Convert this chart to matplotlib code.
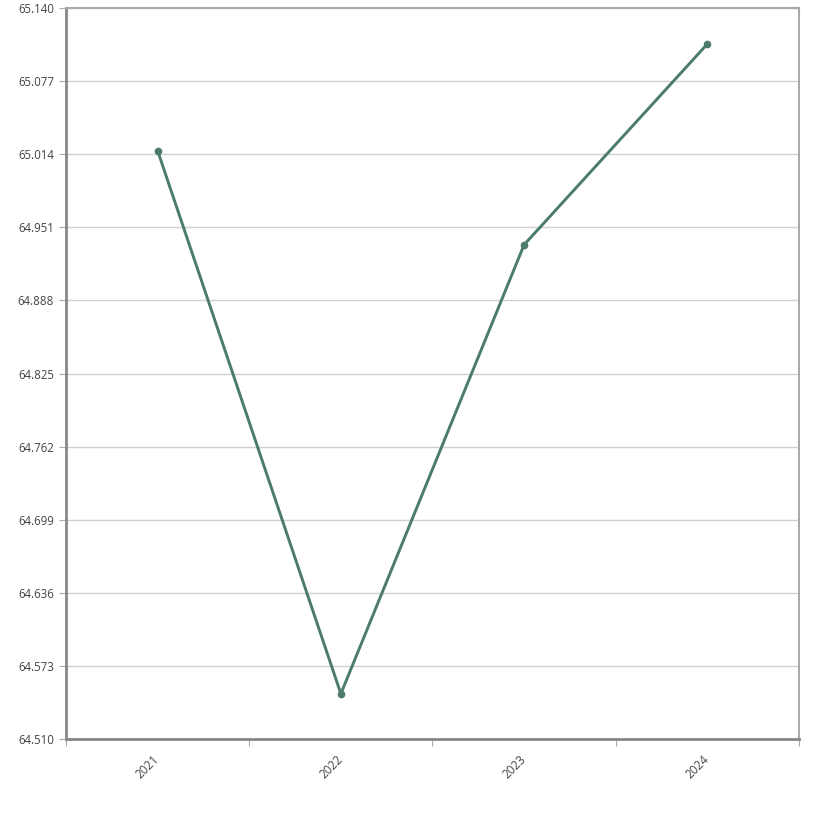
import matplotlib.pyplot as plt
import numpy as np

plt.rcParams['font.family'] = ['Open Sans', 'DejaVu Sans']

# データ
years = ["2021", "2022", "2023", "2024"]
values = [65.017, 64.549, 64.936, 65.109]
y_ticks = [64.510, 64.573, 64.636, 64.699, 64.762, 64.825, 64.888, 64.951, 65.014, 65.077, 65.140]

line_color = "#4b7b6b"

fig = plt.figure(figsize=(8.34, 8.22), dpi=100)
ax = fig.add_axes([66 / 834, 1 - 739 / 822, 733 / 834, 731 / 822])

x = np.arange(len(years)) + 0.5
ax.plot(x, values, color=line_color, linewidth=2.1, marker="o", markersize=4.5, zorder=3)

ax.set_xlim(0, len(years))
ax.set_ylim(y_ticks[0], y_ticks[-1])

ax.set_yticks(y_ticks)
ax.set_yticklabels([f"{v:.3f}" for v in y_ticks])
ax.yaxis.grid(True, color="#d0d0d0", linewidth=1)
ax.set_axisbelow(True)

# カテゴリ境界に目盛り、ラベルは中央
ax.set_xticks(np.arange(len(years) + 1))
ax.set_xticklabels([])
ax.set_xticks(x, minor=True)
ax.set_xticklabels(years, minor=True, rotation=45, ha="right", va="center", rotation_mode="anchor")
ax.tick_params(axis="x", which="minor", length=0, pad=13)
ax.tick_params(axis="x", which="major", length=5, color="#aaaaaa")
ax.tick_params(axis="y", length=5, color="#aaaaaa")
ax.tick_params(labelsize=8.3, labelcolor="#444444")
for lab in ax.get_xticklabels(minor=True):
    lab.set_fontsize(8.5)
    lab.set_color("#444444")

for side in ["left", "bottom"]:
    ax.spines[side].set_color("#888888")
    ax.spines[side].set_linewidth(2)
for side in ["top", "right"]:
    ax.spines[side].set_color("#aaaaaa")
    ax.spines[side].set_linewidth(1.5)

fig.savefig("out.png", dpi=100)
